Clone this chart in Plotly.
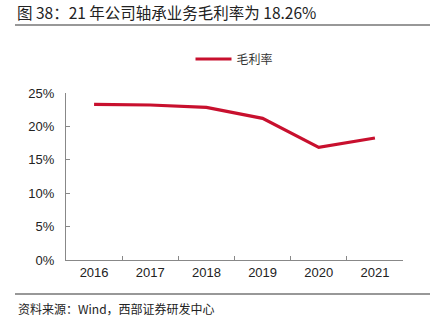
import plotly.graph_objects as go

years = ["2016", "2017", "2018", "2019", "2020", "2021"]
gross_margin = [0.233, 0.232, 0.2285, 0.212, 0.1685, 0.1826]
series_name = "毛利率"
title_text = "图 38：21 年公司轴承业务毛利率为 18.26%"
source_text = "资料来源：Wind，西部证券研发中心"

W, H = 436, 323
ml, mr, mt, mb = 66, 33, 93, 63
PW, PH = W - ml - mr, H - mt - mb


def px_x(x):
    return (x - ml) / PW


def px_y(y):
    return (H - mb - y) / PH


fig = go.Figure()
fig.add_trace(go.Scatter(
    x=years, y=gross_margin, mode="lines", name=series_name,
    line=dict(color="#C8102E", width=3.2),
))

fig.update_layout(
    width=W, height=H,
    margin=dict(l=ml, r=mr, t=mt, b=mb),
    paper_bgcolor="white", plot_bgcolor="white",
    font=dict(family="Liberation Sans, Arial, sans-serif", size=13, color="#222"),
    showlegend=True,
    legend=dict(orientation="h", x=0.5, xanchor="center", y=(H - 59) / H, yref="container",
                yanchor="middle", font=dict(family="Noto Sans CJK SC", size=12, color="#333"),
                itemwidth=36, bgcolor="rgba(0,0,0,0)"),
    xaxis=dict(type="category", range=[-0.5, 5.5], showline=True, linecolor="#888", linewidth=1,
               ticks="inside", ticklen=4, tickcolor="#888", tickson="boundaries",
               showgrid=False, zeroline=False, tickfont=dict(size=13, color="#222")),
    yaxis=dict(range=[0, 0.25], tickvals=[0, 0.05, 0.10, 0.15, 0.20, 0.25],
               ticktext=["0%", "5%", "10%", "15%", "20%", "25%"],
               showline=True, linecolor="#888", linewidth=1, ticks="inside", ticklen=4,
               tickcolor="#888", showgrid=False, zeroline=False, ticklabelstandoff=8,
               tickfont=dict(size=13, color="#222")),
)

fig.add_annotation(text=title_text, x=px_x(15), y=px_y(12), xref="paper", yref="paper",
                   xanchor="left", yanchor="middle", showarrow=False,
                   font=dict(family="Noto Sans CJK SC", size=15.5, color="#222"))
fig.add_annotation(text=source_text, x=px_x(16), y=px_y(308), xref="paper", yref="paper",
                   xanchor="left", yanchor="middle", showarrow=False,
                   font=dict(family="Noto Sans CJK SC", size=12, color="#222"))

for yy in (25, 294):
    fig.add_shape(type="line", xref="paper", yref="paper",
                  x0=px_x(15), x1=px_x(430), y0=px_y(yy), y1=px_y(yy),
                  line=dict(color="#333", width=1.2))

fig.write_html("out.html")
